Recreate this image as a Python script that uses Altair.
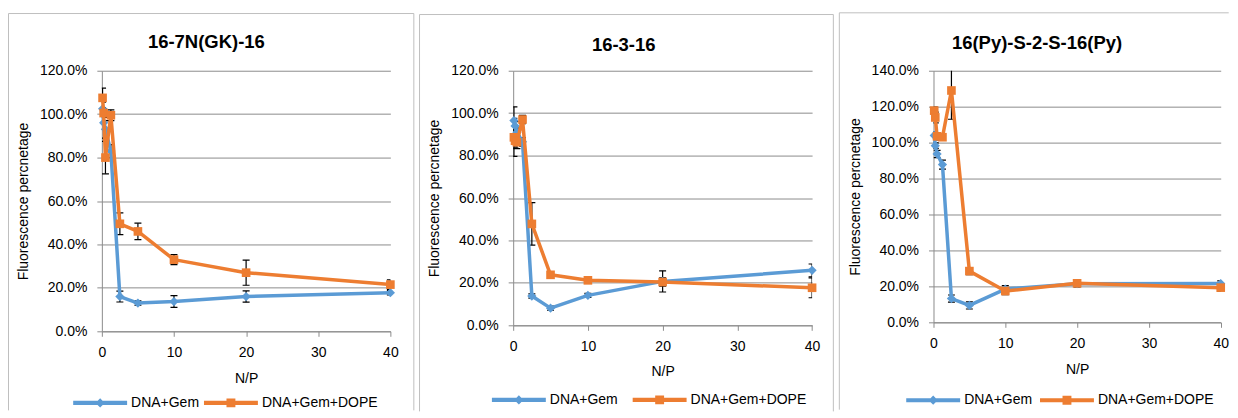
import altair as alt
import pandas as pd

# ---------------- data ----------------
NP = [0.1, 0.25, 0.5, 1.25, 2.5, 5, 10, 20, 40]
SERIES = ["DNA+Gem", "DNA+Gem+DOPE"]
TITLES = ["16-7N(GK)-16", "16-3-16", "16(Py)-S-2-S-16(Py)"]

P1_GEM = [1.025, 0.96, 0.93, 0.83, 0.16, 0.13, 0.137, 0.16, 0.178]
P1_GEM_ERR = [0.03, 0.03, 0.04, 0.03, 0.025, 0.01, 0.027, 0.026, 0.01]
P1_DOPE = [1.075, 1.005, 0.80, 0.995, 0.495, 0.46, 0.33, 0.27, 0.215]
P1_DOPE_ERR = [0.045, 0.02, 0.075, 0.025, 0.05, 0.038, 0.023, 0.058, 0.022]

P2_GEM = [0.965, 0.94, 0.91, 0.865, 0.138, 0.081, 0.141, 0.207, 0.259]
P2_GEM_ERR = [0.065, 0.02, 0.02, 0.02, 0.01, 0.01, 0.01, 0.05, 0.03]
P2_DOPE = [0.886, 0.87, 0.863, 0.97, 0.478, 0.238, 0.212, 0.204, 0.177]
P2_DOPE_ERR = [0.09, 0.035, 0.03, 0.02, 0.10, 0.015, 0.015, 0.02, 0.047]

P3_GEM = [1.04, 0.983, 0.937, 0.878, 0.132, 0.094, 0.185, 0.215, 0.216]
P3_GEM_ERR = [0.02, 0.015, 0.02, 0.025, 0.02, 0.02, 0.02, 0.015, 0.015]
P3_DOPE = [1.178, 1.14, 1.035, 1.03, 1.29, 0.285, 0.174, 0.217, 0.193]
P3_DOPE_ERR = [0.02, 0.03, 0.02, 0.015, 0.16, 0.02, 0.02, 0.02, 0.02]

X_TICKS = [0, 10, 20, 30, 40]
Y_TICKS_120 = [0, 0.2, 0.4, 0.6, 0.8, 1.0, 1.2]
Y_TICKS_140 = [0, 0.2, 0.4, 0.6, 0.8, 1.0, 1.2, 1.4]

# ---------------- style ----------------
BLUE = "#5B9BD5"
ORANGE = "#ED7D31"
FONT = "Liberation Sans"
GRID = "#8C8C8C"
FRAME = "#BFBFBF"
LEG_GEM = "M-1,-0.075L1,-0.075L1,0.075L-1,0.075Z M-0.17,0L0,-0.17L0.17,0L0,0.17Z"
LEG_DOPE = "M-1,-0.075L1,-0.075L1,0.075L-1,0.075Z M-0.165,-0.165L0.165,-0.165L0.165,0.165L-0.165,0.165Z"
LEG_W = 54


def make_panel(title, gem, gem_err, dope, dope_err, ymax, yticks, L):
    rows = []
    for name, vals, errs in ((SERIES[0], gem, gem_err), (SERIES[1], dope, dope_err)):
        for x, v, e in zip(NP, vals, errs):
            rows.append({"np": x, "val": v, "lo": v - e, "hi": v + e, "series": name})
    df = pd.DataFrame(rows)
    base = alt.Chart(df)

    xaxis = alt.Axis(values=X_TICKS, grid=False, title="N/P", labelFlush=False,
                     titleY=L["xt"], titleBaseline="middle")
    yaxis = alt.Axis(values=yticks, format=".1%", grid=True,
                     title="Fluorescence percnetage", titleX=L["yt"], titleY=L["h"] / 2,
                     titleBaseline="middle", titleAlign="center", titleAngle=270)
    xs = alt.Scale(domain=[0, 40], nice=False)
    ys = alt.Scale(domain=[0, ymax], nice=False)
    X = alt.X("np:Q", scale=xs, axis=xaxis)
    Y = alt.Y("val:Q", scale=ys, axis=yaxis)

    # panel frame (top, left and, when visible, right edge)
    fr = L["frame"]
    one = pd.DataFrame({"k": [0]})
    frames = [
        alt.Chart(one).mark_rule(color=FRAME, strokeWidth=1).encode(
            x=alt.value(fr[0]), x2=alt.value(fr[1]), y=alt.value(fr[2])),
        alt.Chart(one).mark_rule(color=FRAME, strokeWidth=1).encode(
            x=alt.value(fr[0]), y=alt.value(fr[2]), y2=alt.value(fr[3])),
    ]
    if L["closed"]:
        frames.append(alt.Chart(one).mark_rule(color=FRAME, strokeWidth=1).encode(
            x=alt.value(fr[1]), y=alt.value(fr[2]), y2=alt.value(fr[3])))

    err_rule = base.mark_rule(color="black", strokeWidth=1.2, clip=True).encode(
        x=X, y=alt.Y("lo:Q", scale=ys, axis=yaxis), y2="hi:Q")
    err_lo = base.mark_tick(orient="horizontal", size=7, thickness=1.2, color="black",
                            clip=True, opacity=1).encode(x=X, y=alt.Y("lo:Q", scale=ys, axis=yaxis))
    err_hi = base.mark_tick(orient="horizontal", size=7, thickness=1.2, color="black",
                            clip=True, opacity=1).encode(x=X, y=alt.Y("hi:Q", scale=ys, axis=yaxis))

    g = base.transform_filter(alt.datum.series == SERIES[0])
    d = base.transform_filter(alt.datum.series == SERIES[1])
    gem_line = g.mark_line(color=BLUE, strokeWidth=3.5, strokeJoin="round", strokeCap="round").encode(x=X, y=Y)
    gem_pts = g.mark_point(shape="diamond", filled=True, size=85, color=BLUE, opacity=1).encode(x=X, y=Y)
    dope_line = d.mark_line(color=ORANGE, strokeWidth=3.5, strokeJoin="round", strokeCap="round").encode(x=X, y=Y)
    dope_pts = d.mark_point(shape="square", filled=True, size=75, color=ORANGE, opacity=1).encode(x=X, y=Y)

    leg = alt.Legend(orient="none", legendX=L["lx"], legendY=L["ly"], direction="horizontal",
                     title=None, symbolSize=LEG_W * LEG_W, symbolStrokeWidth=0, symbolOpacity=1,
                     labelFont=FONT, labelFontSize=14, labelColor="black", labelOffset=4,
                     columnPadding=L["cp"], padding=0)
    legend_layer = base.mark_point(filled=True, opacity=0).encode(
        x=X, y=Y,
        color=alt.Color("series:N", scale=alt.Scale(domain=SERIES, range=[BLUE, ORANGE]), legend=leg),
        shape=alt.Shape("series:N", scale=alt.Scale(domain=SERIES, range=[LEG_GEM, LEG_DOPE]), legend=leg),
    )

    ttl = alt.Chart(pd.DataFrame({"t": [title]})).mark_text(
        font=FONT, fontSize=18.5, fontWeight="bold", color="black", align="center", baseline="middle"
    ).encode(x=alt.value(L["tx"]), y=alt.value(L["ty"]), text="t:N")

    return alt.layer(*frames, err_rule, err_lo, err_hi, gem_line, gem_pts, dope_line, dope_pts,
                     legend_layer, ttl).properties(width=L["w"], height=L["h"])


# frame = (left, right, top, bottom) relative to the plot origin
L1 = dict(w=289, h=261, frame=(-93.5, 312.5, -57.3, 340.2), closed=True, cp=4,
          tx=104.7, ty=-28.3, yt=-78.7, xt=47.7, lx=-28.7, ly=332.7 - LEG_W / 2)
L2 = dict(w=299.4, h=255, frame=(-93.8, 320.7, -56.3, 341.2), closed=True, cp=14,
          tx=110.7, ty=-25.6, yt=-78.3, xt=46.7, lx=-21.3, ly=329.7 - LEG_W / 2)
L3 = dict(w=287.7, h=252, frame=(-94.3, 295.7, -58.0, 339.5), closed=False, cp=7,
          tx=103.7, ty=-27.3, yt=-78.3, xt=47.3, lx=-27.3, ly=330.0 - LEG_W / 2)

p1 = make_panel(TITLES[0], P1_GEM, P1_GEM_ERR, P1_DOPE, P1_DOPE_ERR, 1.2, Y_TICKS_120, L1)
p2 = make_panel(TITLES[1], P2_GEM, P2_GEM_ERR, P2_DOPE, P2_DOPE_ERR, 1.2, Y_TICKS_120, L2)
p3 = make_panel(TITLES[2], P3_GEM, P3_GEM_ERR, P3_DOPE, P3_DOPE_ERR, 1.4, Y_TICKS_140, L3)

chart = alt.hconcat(p1, p2, p3, spacing=4).resolve_scale(
    x="independent", y="independent", color="independent", shape="independent"
).resolve_legend(color="independent", shape="independent").properties(
    padding={"left": 0, "top": 3.5, "right": 0, "bottom": 0}, background="white"
).configure_view(strokeWidth=0).configure_axis(
    domainColor=GRID, tickColor=GRID, gridColor=GRID, tickSize=5, domainWidth=1, gridWidth=1,
    labelFont=FONT, labelFontSize=14, labelColor="black",
    titleFont=FONT, titleFontSize=14, titleFontWeight="normal", titleColor="black"
).configure_axisX(labelPadding=9).configure_axisY(labelPadding=10).configure_legend(
    labelFont=FONT, labelFontSize=14, labelColor="black"
)

chart.save("out.html", embed_options={"renderer": "svg", "actions": False})
